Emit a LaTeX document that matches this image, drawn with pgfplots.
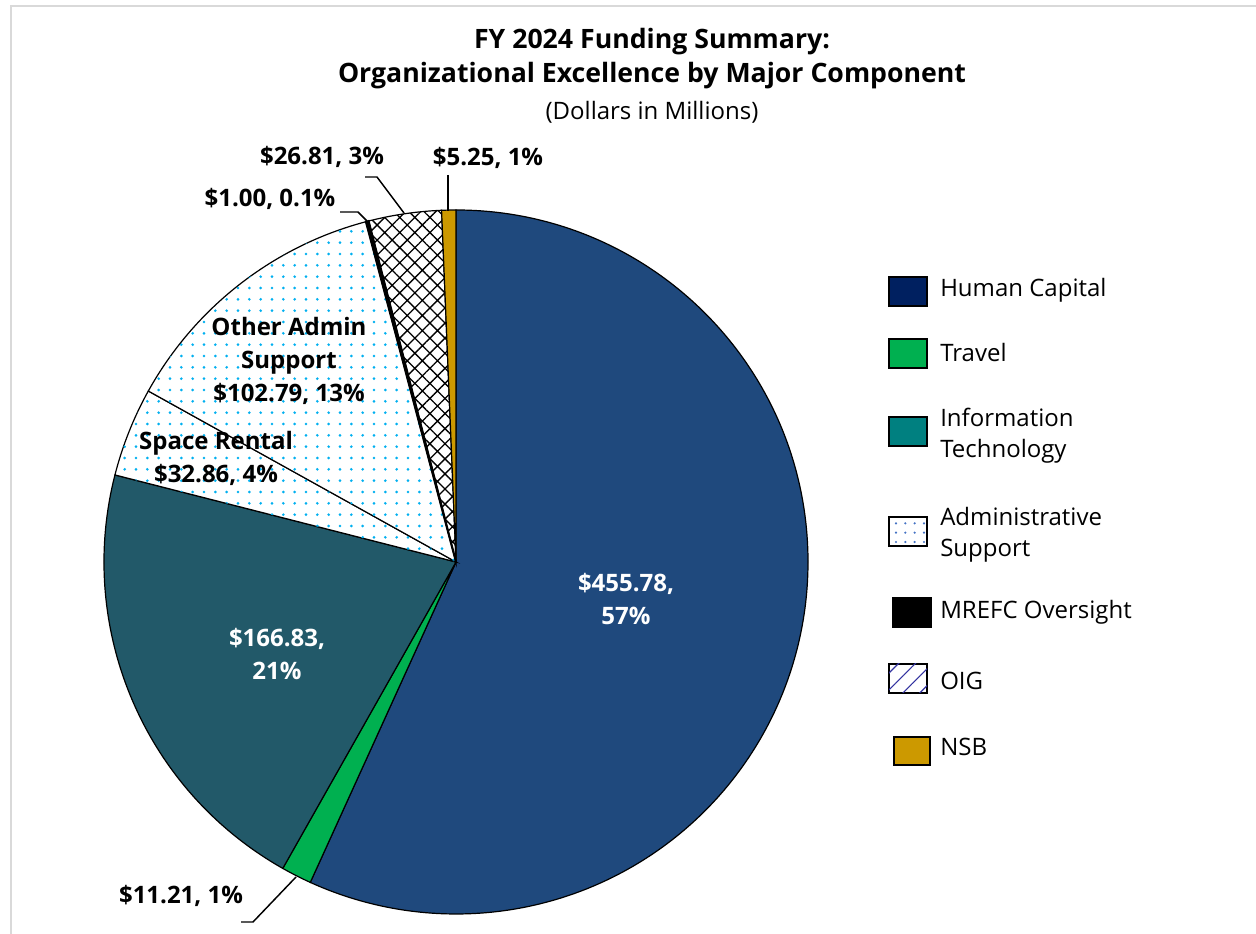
\documentclass[border=0pt]{standalone}
\usepackage{pgfplots}
\pgfplotsset{compat=1.18}
\usepackage{fontspec}
\setmainfont{Open Sans}
\usetikzlibrary{patterns.meta}

\definecolor{hcslice}{RGB}{31,73,125}
\definecolor{itslice}{RGB}{34,89,105}
\definecolor{travel}{RGB}{0,176,80}
\definecolor{nsb}{RGB}{204,153,0}
\definecolor{hcleg}{RGB}{0,32,96}
\definecolor{itleg}{RGB}{0,128,128}
\definecolor{dotc}{RGB}{0,176,240}
\definecolor{dotleg}{RGB}{68,114,196}
\definecolor{oigleg}{RGB}{51,51,160}
\definecolor{frame}{RGB}{217,217,217}

\tikzset{
  lbl/.style={font=\bfseries\fontsize{18}{24.75}\selectfont, align=center},
  leg/.style={font=\fontsize{18}{23.25}\selectfont, align=left, anchor=west, inner sep=0pt},
}

% funding, $M (clockwise from 12 o'clock)
\def\vHC{455.78}  \def\vTR{11.21}  \def\vIT{166.83} \def\vSR{32.86}
\def\vOA{102.79}  \def\vMR{1.00}   \def\vOIG{26.81} \def\vNSB{5.25}

\pgfmathsetmacro\tot{\vHC+\vTR+\vIT+\vSR+\vOA+\vMR+\vOIG+\vNSB}
\pgfmathsetmacro\aA{90}
\pgfmathsetmacro\aB{\aA-\vHC/\tot*360}
\pgfmathsetmacro\aC{\aB-\vTR/\tot*360}
\pgfmathsetmacro\aD{\aC-\vIT/\tot*360}
\pgfmathsetmacro\aE{\aD-\vSR/\tot*360}
\pgfmathsetmacro\aF{\aE-\vOA/\tot*360}
\pgfmathsetmacro\aG{\aF-\vMR/\tot*360}
\pgfmathsetmacro\aH{\aG-\vOIG/\tot*360}
\pgfmathsetmacro\aI{\aH-\vNSB/\tot*360}

\newcommand\slice[3]{\filldraw[line width=0.9pt,#3] (axis cs:456,372) -- ++(#1:264pt)
  arc[start angle=#1, end angle=#2, radius=264pt] -- cycle;}
\newcommand\legbox[5]{\filldraw[line width=0.9pt,#5] (axis cs:#1,#2) rectangle (axis cs:#3,#4);}

\begin{document}
\begin{tikzpicture}
\begin{axis}[
    x=0.75pt, y=0.75pt,
    xmin=0, xmax=1256, ymin=0, ymax=934,
    hide axis, clip=false,
]
\coordinate (sw) at (axis cs:0,0);
\coordinate (ne) at (axis cs:1256,934);
\draw[frame, line width=1.5pt] (axis cs:1256,928) -- (axis cs:11,928) -- (axis cs:11,0);

% title
\node[font=\bfseries\fontsize{20}{25}\selectfont] at (axis cs:652,892) {FY 2024 Funding Summary:};
\node[font=\bfseries\fontsize{20}{25}\selectfont] at (axis cs:652,858) {Organizational Excellence by Major Component};
\node[font=\fontsize{18}{20}\selectfont] at (axis cs:652,822) {(Dollars in Millions)};

% slices
\slice{\aA}{\aB}{fill=hcslice}
\slice{\aB}{\aC}{fill=travel}
\slice{\aC}{\aD}{fill=itslice}
\slice{\aD}{\aE}{fill=white, postaction={pattern={Dots[distance=8.5pt, radius=1.1pt]}, pattern color=dotc}}
\slice{\aE}{\aF}{fill=white, postaction={pattern={Dots[distance=8.5pt, radius=1.1pt]}, pattern color=dotc}}
\slice{\aG}{\aH}{fill=white, postaction={pattern={Hatch[distance=8pt, angle=45, line width=1pt]}, pattern color=black}}
\slice{\aH}{\aI}{fill=nsb}
\slice{\aF}{\aG}{fill=black, line width=1.5pt}

% slice labels
\node[lbl, text=white] at (axis cs:626,334.5) {\$455.78,\\57\%};
\node[lbl, text=white] at (axis cs:277,279.5) {\$166.83,\\21\%};
\node[lbl] at (axis cs:289,573) {Other Admin\\Support\\\$102.79, 13\%};
\node[lbl] at (axis cs:216,475.5) {Space Rental\\\$32.86, 4\%};
\node[lbl] at (axis cs:270,735) {\$1.00, 0.1\%};
\node[lbl] at (axis cs:322,777) {\$26.81, 3\%};
\node[lbl] at (axis cs:488,776) {\$5.25, 1\%};
\node[lbl] at (axis cs:181,38) {\$11.21, 1\%};

% leader lines
\draw[line width=1.1pt] (axis cs:340,722) -- (axis cs:358,722) -- (axis cs:367,713);
\draw[line width=1.1pt] (axis cs:365,757) -- (axis cs:377,757) -- (axis cs:404,721);
\draw[line width=1.1pt] (axis cs:448,759) -- (axis cs:448,723);
\draw[line width=1.1pt] (axis cs:296,57) -- (axis cs:253,12) -- (axis cs:241,12);

% legend
\legbox{889}{657}{927}{628}{fill=hcleg}
\node[leg] at (axis cs:940,644) {Human Capital};
\legbox{889}{595}{927}{566}{fill=travel}
\node[leg] at (axis cs:940,581) {Travel};
\legbox{889}{517}{927}{488}{fill=itleg}
\node[leg] at (axis cs:940,498) {Information\\Technology};
\legbox{889}{417}{927}{388}{fill=white, postaction={pattern={Dots[distance=7pt, radius=0.9pt]}, pattern color=dotleg}}
\node[leg] at (axis cs:940,399.5) {Administrative\\Support};
\legbox{893}{336}{931}{307}{fill=black}
\node[leg] at (axis cs:940,322) {MREFC Oversight};
\legbox{889}{270}{927}{241}{fill=white, postaction={pattern={Lines[distance=9pt, angle=45, line width=0.9pt]}, pattern color=oigleg}}
\node[leg] at (axis cs:940,253) {OIG};
\legbox{894}{197}{930}{169}{fill=nsb}
\node[leg] at (axis cs:940,187) {NSB};
\end{axis}
\pgfresetboundingbox
\useasboundingbox (sw) rectangle (ne);
\end{tikzpicture}
\end{document}
